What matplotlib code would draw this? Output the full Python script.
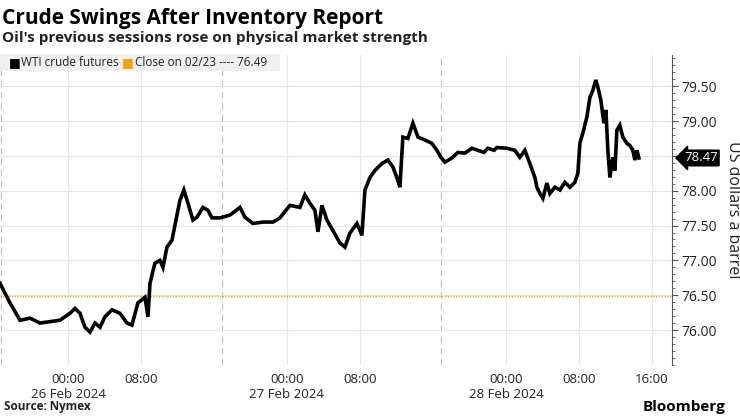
import matplotlib
matplotlib.use("Agg")
import matplotlib.pyplot as plt
import matplotlib.transforms as mtransforms

plt.rcParams['font.family'] = ['Open Sans', 'DejaVu Sans']

# hours since 26 Feb 2024 00:00
hours = [-7.45, -6.36, -5.26, -4.16, -3.07, -1.97, -0.88, 0.22, 0.77, 1.32, 1.86, 2.41, 2.96, 3.51,
         4.05, 4.82, 5.70, 6.47, 7.01, 7.67, 8.44, 8.77, 8.99, 9.53, 10.08, 10.41, 10.85, 11.40,
         11.84, 12.27, 12.71, 13.15, 13.70, 14.14, 14.79, 15.34, 15.78, 16.66, 17.75, 18.85, 19.40,
         20.27, 21.37, 22.47, 23.23, 24.33, 25.42, 25.97, 26.52, 27.07, 27.40, 27.84, 28.38, 29.81,
         30.36, 30.90, 31.67, 32.22, 32.55, 33.10, 33.64, 34.41, 35.07, 35.62, 36.16, 36.38, 36.71,
         37.26, 37.81, 38.36, 39.12, 39.89, 40.44, 40.88, 41.32, 42.08, 42.74, 43.51, 44.28, 44.93,
         45.59, 46.03, 46.70, 47.01, 48.11, 48.99, 49.53, 50.08, 50.63, 51.18, 51.40, 51.73, 52.06,
         52.49, 52.82, 53.37, 53.92, 54.47, 55.02, 55.56, 55.89, 56.11, 56.44, 56.88, 57.21, 57.53,
         57.86, 58.08, 58.41, 58.74, 58.96, 59.18, 59.40, 59.73, 59.95, 60.17, 60.49, 60.82, 61.26,
         61.59, 61.92, 62.14, 62.36, 62.58]
price = [76.67, 76.39, 76.14, 76.17, 76.10, 76.12, 76.14, 76.24, 76.31, 76.24, 76.04, 75.97, 76.10, 76.04,
         76.19, 76.29, 76.24, 76.10, 76.07, 76.39, 76.47, 76.19, 76.67, 76.96, 77.00, 76.90, 77.19, 77.29,
         77.58, 77.86, 78.01, 77.82, 77.58, 77.62, 77.76, 77.72, 77.61, 77.61, 77.65, 77.76, 77.62,
         77.53, 77.55, 77.55, 77.61, 77.79, 77.76, 77.94, 77.82, 77.72, 77.41, 77.79, 77.58, 77.25,
         77.19, 77.39, 77.53, 77.36, 78.01, 78.19, 78.29, 78.39, 78.44, 78.34, 78.15, 78.05, 78.77,
         78.75, 78.97, 78.77, 78.73, 78.68, 78.58, 78.48, 78.41, 78.47, 78.55, 78.54, 78.61, 78.58,
         78.55, 78.61, 78.58, 78.62, 78.61, 78.58, 78.48, 78.58, 78.39, 78.19, 78.05, 77.96, 77.89,
         78.11, 77.96, 78.05, 78.01, 78.12, 78.05, 78.12, 78.25, 78.68, 78.83, 79.06, 79.34, 79.44,
         79.59, 79.49, 79.30, 78.97, 79.16, 78.58, 78.19, 78.48, 78.29, 78.87, 78.94, 78.77, 78.68,
         78.65, 78.58, 78.44, 78.58, 78.47]
prev_close = 76.49
last = 78.47
session_breaks = [-7.3, 16.9, 40.9]
tick_hours = [0, 8, 24, 32, 48, 56, 64]
tick_labels = ['00:00\n26 Feb 2024', '08:00', '00:00\n27 Feb 2024', '08:00',
               '00:00\n28 Feb 2024', '08:00', '16:00']
y_ticks = [76.0, 76.5, 77.0, 77.5, 78.0, 78.5, 79.0, 79.5]

fig = plt.figure(figsize=(7.4, 4.16), dpi=100)
ax = fig.add_axes([0.0, 0.123, 0.908, 0.745])

ax.plot(hours, price, color='black', lw=2.6, solid_joinstyle='miter', zorder=3)
ax.axhline(prev_close, color='#f0a30a', lw=1, ls=(0, (1, 1)), zorder=2)
for b in session_breaks:
    ax.axvline(b, color='#bbbbbb', lw=0.8, ls=(0, (6, 4)), zorder=1)

ax.set_xlim(-7.45, 66.2)
ax.set_ylim(75.5, 79.95)
ax.set_xticks(tick_hours)
ax.set_xticklabels(tick_labels, fontsize=9.5, color='#222222')
ax.set_yticks(y_ticks)
# the last-value tag hides the label it sits on
ax.set_yticklabels(['' if abs(v - last) < 0.1 else f'{v:.2f}' for v in y_ticks],
                   fontsize=10, color='#222222')
ax.set_yticks([v / 10 for v in range(755, 800)], minor=True)
ax.yaxis.tick_right()
ax.yaxis.set_label_position('right')
ax.set_ylabel('US dollars a barrel', fontsize=11.5, rotation=270, color='#222222', va='center')
ax.yaxis.set_label_coords(1.091, 0.5)
ax.tick_params(axis='x', length=0, pad=6)
ax.tick_params(axis='y', which='major', length=4, color='#555555', pad=3)
ax.tick_params(axis='y', which='minor', length=2, color='#555555')
ax.grid(True, color='#e6e6e6', lw=0.8, zorder=0)
for s in ['top', 'left', 'bottom']:
    ax.spines[s].set_visible(False)
ax.spines['right'].set_color('#555555')

# last value tag
trans = mtransforms.blended_transform_factory(ax.transAxes, ax.transData)
ax.text(1.018, last, f'{last:.2f}', transform=trans, fontsize=9.5, color='white', va='center',
        ha='left', bbox=dict(boxstyle='larrow,pad=0.1', fc='black', ec='black'))

# legend strip
fig.patches.append(plt.Rectangle((0.0, 0.83), 0.378, 0.04, transform=fig.transFigure,
                                 fc='#f0f0f0', ec='none', zorder=5))
fig.text(0.012, 0.849, '■', fontsize=9, color='black', va='center', zorder=6)
fig.text(0.028, 0.849, 'WTI crude futures', fontsize=8.5, color='#222222', va='center', zorder=6)
fig.text(0.165, 0.849, '■', fontsize=9, color='#f0a30a', va='center', zorder=6)
fig.text(0.182, 0.849, 'Close on 02/23 ---- 76.49', fontsize=8.5, color='#222222', va='center', zorder=6)

fig.text(0.003, 0.955, 'Crude Swings After Inventory Report', fontsize=15, weight='bold', va='center')
fig.text(0.003, 0.908, "Oil's previous sessions rose on physical market strength", fontsize=11,
         weight='bold', va='center', color='#222222')
fig.text(0.005, 0.022, 'Source: Nymex', fontsize=8.5, weight='bold', va='center', color='#222222')
fig.text(0.98, 0.022, 'Bloomberg', fontsize=11, weight='bold', va='center', ha='right')

fig.savefig('out.png', dpi=100, facecolor='white')
